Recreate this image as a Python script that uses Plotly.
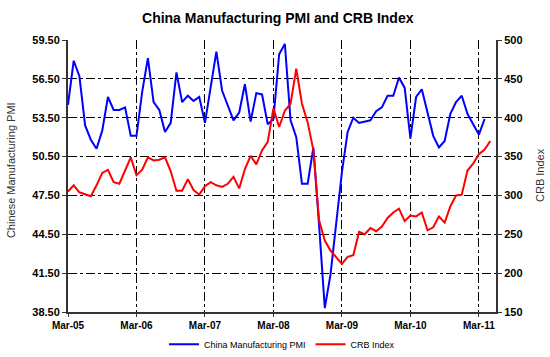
import plotly.graph_objects as go

# Monthly data, first point at the "Mar-05" gridline
pmi = [54.5, 57.9, 56.7, 52.9, 51.8, 51.1, 52.5, 55.1, 54.1, 54.1, 54.3, 52.1,
       52.1, 55.5, 58.1, 54.7, 54.1, 52.4, 53.1, 57.0, 54.7, 55.2, 54.8, 55.1,
       53.1, 56.0, 58.6, 55.6, 54.5, 53.3, 53.9, 56.1, 53.2, 55.4, 55.3, 53.0,
       53.4, 58.4, 59.2, 53.3, 52.0, 48.4, 48.4, 51.2, 45.2, 38.8, 41.4, 45.2,
       49.3, 52.4, 53.5, 53.1, 53.2, 53.3, 54.0, 54.3, 55.2, 55.2, 56.6, 55.8,
       51.9, 55.1, 55.7, 53.9, 52.1, 51.2, 51.7, 53.8, 54.7, 55.2, 53.8, 53.0,
       52.2, 53.4]
crb = [305, 313, 304, 301, 299, 313, 329, 333, 317, 315, 332, 349,
       326, 333, 349, 345, 346, 349, 331, 306, 306, 321, 307, 301,
       312, 317, 313, 311, 315, 324, 309, 334, 351, 340, 358, 369,
       412, 388, 409, 418, 463, 418, 394, 358, 268, 242, 229, 221,
       212, 221, 223, 253, 250, 258, 254, 260, 271, 278, 283, 267,
       274, 273, 278, 255, 259, 273, 265, 286, 300, 301, 332, 341,
       353, 359, 370]
tick_pos = [0, 12, 24, 36, 48, 60, 72]
tick_labels = ["Mar-05", "Mar-06", "Mar-07", "Mar-08", "Mar-09", "Mar-10", "Mar-11"]
pmi_ticks = [38.5, 41.5, 44.5, 47.5, 50.5, 53.5, 56.5, 59.5]
crb_ticks = [150, 200, 250, 300, 350, 400, 450, 500]

FONT = "Arial, 'Liberation Sans', sans-serif"

fig = go.Figure()
fig.add_trace(go.Scatter(x=list(range(len(pmi))), y=pmi, mode="lines",
                         name="China Manufacturing PMI",
                         line=dict(color="#0000FF", width=2)))
fig.add_trace(go.Scatter(x=list(range(len(crb))), y=crb, mode="lines",
                         name="CRB Index", yaxis="y2",
                         line=dict(color="#FF0000", width=2)))

grid = dict(showgrid=True, gridcolor="#000000", gridwidth=1, griddash="dashdot")

fig.update_layout(
    width=550, height=357,
    margin=dict(l=68, r=54, t=40, b=45, autoexpand=False),
    paper_bgcolor="white", plot_bgcolor="white",
    font=dict(family=FONT, color="#000000"),
    title=dict(text="<b>China Manufacturing PMI and CRB Index</b>",
               x=0.505, xanchor="center", y=0.948, yanchor="middle",
               font=dict(size=14, color="#000000")),
    showlegend=True,
    legend=dict(orientation="h", x=0.5, xanchor="center",
                yref="container", y=0.036, yanchor="middle",
                font=dict(size=9), itemwidth=30, bgcolor="rgba(0,0,0,0)"),
    xaxis=dict(range=[0, 75], tickmode="array", tickvals=tick_pos,
               ticktext=["<b>%s</b>" % t for t in tick_labels],
               tickfont=dict(size=10), ticks="outside", ticklen=3,
               automargin=False,
               tickcolor="#333333", showline=True, linecolor="#333333",
               linewidth=2, zeroline=False, **grid),
    yaxis=dict(range=[38.5, 59.5], tickmode="array", tickvals=pmi_ticks,
               ticktext=["<b>%.2f</b>" % v for v in pmi_ticks],
               tickfont=dict(size=11), ticks="outside", ticklen=4,
               automargin=False,
               tickcolor="#333333", showline=True, linecolor="#333333",
               linewidth=2, zeroline=False, **grid),
    yaxis2=dict(range=[150, 500], overlaying="y", side="right",
                tickmode="array", tickvals=crb_ticks,
                ticktext=["<b>%d</b>" % v for v in crb_ticks],
                tickfont=dict(size=11), ticks="outside", ticklen=4,
                automargin=False,
                tickcolor="#333333", showline=True, linecolor="#333333",
                linewidth=2, zeroline=False, showgrid=False),
    annotations=[
        dict(text="Chinese Manufacturing PMI", xref="paper", yref="paper",
             x=-0.133, y=0.522, xanchor="center", yanchor="middle",
             textangle=-90, showarrow=False,
             font=dict(size=11, color="#333333")),
        dict(text="CRB Index", xref="paper", yref="paper",
             x=1.103, y=0.504, xanchor="center", yanchor="middle",
             textangle=-90, showarrow=False,
             font=dict(size=11, color="#333333")),
    ],
)

fig.write_html("out.html",
               config={"displayModeBar": False},
               post_script="document.body.style.margin='0';document.body.style.padding='0';")
